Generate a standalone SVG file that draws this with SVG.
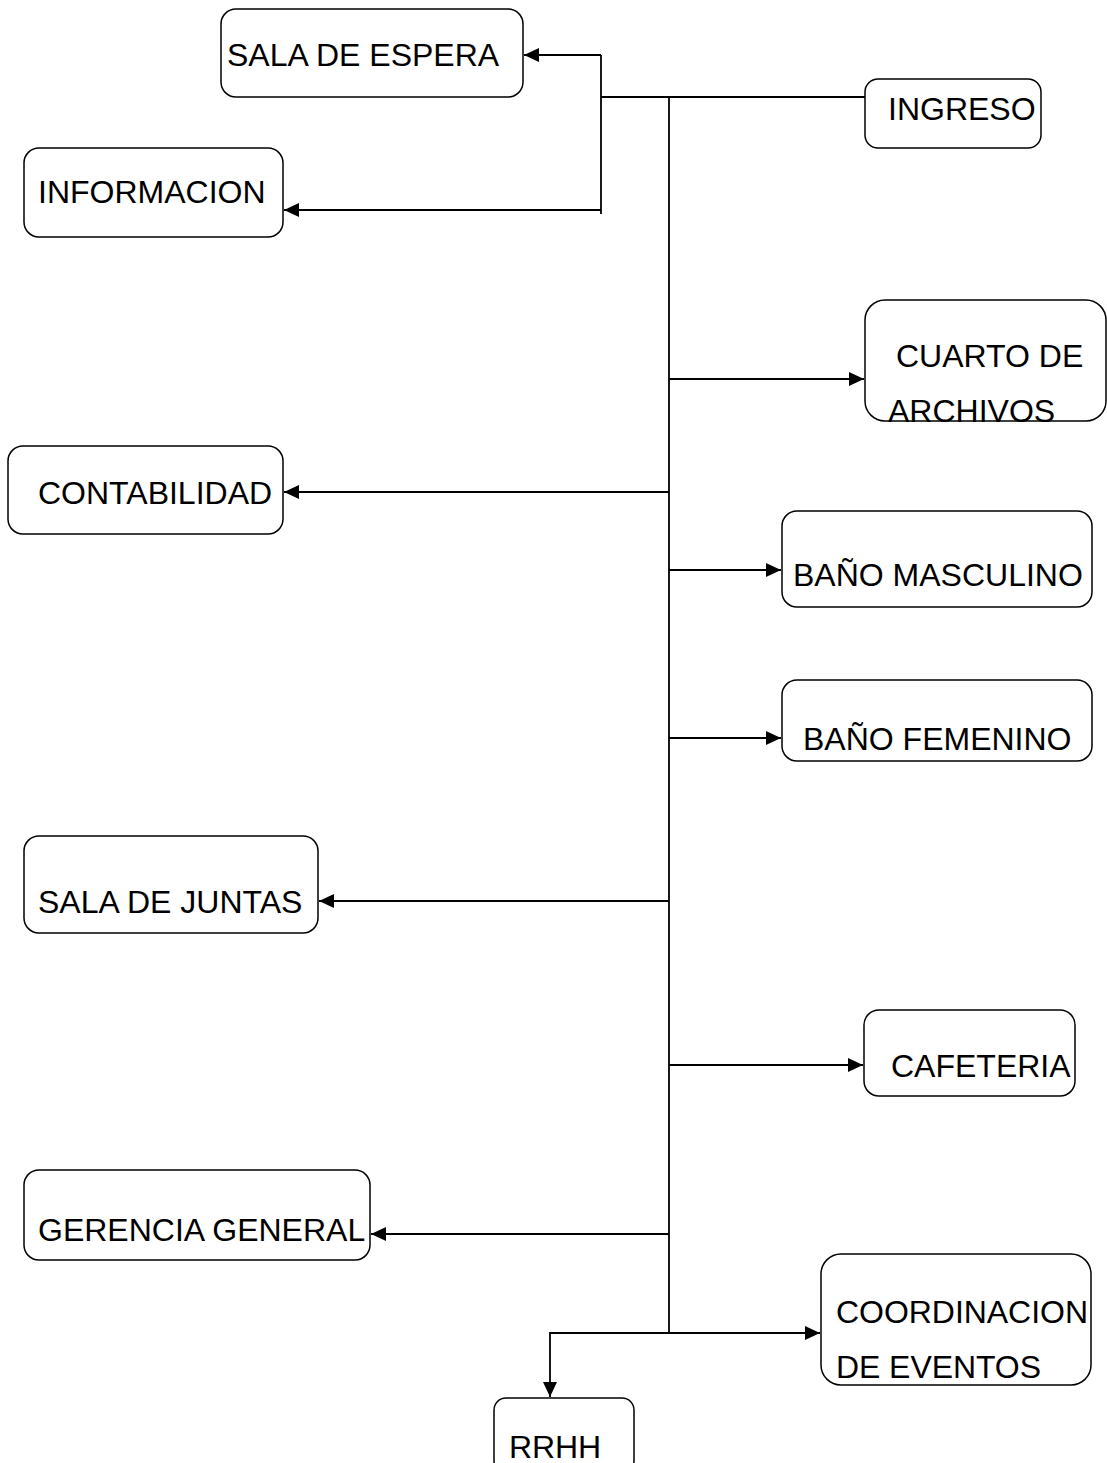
<svg xmlns="http://www.w3.org/2000/svg" width="1107" height="1463" viewBox="0 0 1107 1463">
<style>
.box{fill:#fff;stroke:#000;stroke-width:1.5}
.t{font-family:"Liberation Sans",Arial,sans-serif;font-size:32px;fill:#000}
.c{fill:none;stroke:#000;stroke-width:1.8}
</style>
<defs>
<marker id="ah" markerWidth="16" markerHeight="14" refX="15" refY="7" orient="auto" markerUnits="userSpaceOnUse">
<path d="M0,0 L15,7 L0,14 Z" fill="#000"/>
</marker>
</defs>
<rect width="1107" height="1463" fill="#fff"/>
<g id="connectors">
<line class="c" x1="669" y1="97" x2="669" y2="1333"/>
<line class="c" x1="601" y1="97" x2="865" y2="97"/>
<line class="c" x1="601" y1="55" x2="601" y2="214"/>
<line class="c" x1="601" y1="55" x2="524" y2="55" marker-end="url(#ah)"/>
<line class="c" x1="601" y1="210" x2="284" y2="210" marker-end="url(#ah)"/>
<line class="c" x1="669" y1="379" x2="864" y2="379" marker-end="url(#ah)"/>
<line class="c" x1="669" y1="492" x2="284" y2="492" marker-end="url(#ah)"/>
<line class="c" x1="669" y1="570" x2="781" y2="570" marker-end="url(#ah)"/>
<line class="c" x1="669" y1="738" x2="781" y2="738" marker-end="url(#ah)"/>
<line class="c" x1="669" y1="901" x2="319" y2="901" marker-end="url(#ah)"/>
<line class="c" x1="669" y1="1065" x2="863" y2="1065" marker-end="url(#ah)"/>
<line class="c" x1="669" y1="1234" x2="371" y2="1234" marker-end="url(#ah)"/>
<line class="c" x1="669" y1="1333" x2="820" y2="1333" marker-end="url(#ah)"/>
<polyline class="c" points="669,1333 550,1333 550,1397" marker-end="url(#ah)"/>
</g>
<g id="sala-espera"><rect class="box" x="221" y="9" width="302" height="88" rx="15"/><text class="t" x="227" y="66">SALA DE ESPERA</text></g>
<g id="informacion"><rect class="box" x="24" y="148" width="259" height="89" rx="15"/><text class="t" x="38" y="203">INFORMACION</text></g>
<g id="ingreso"><rect class="box" x="865" y="79" width="176" height="69" rx="13"/><text class="t" x="888" y="120">INGRESO</text></g>
<g id="cuarto-archivos"><rect class="box" x="865" y="300" width="241" height="121" rx="20"/><text class="t" x="896" y="367">CUARTO DE</text><text class="t" x="888" y="422">ARCHIVOS</text></g>
<g id="contabilidad"><rect class="box" x="8" y="446" width="275" height="88" rx="15"/><text class="t" x="38" y="504">CONTABILIDAD</text></g>
<g id="bano-masculino"><rect class="box" x="782" y="511" width="310" height="96" rx="15"/><text class="t" x="793" y="586">BAÑO MASCULINO</text></g>
<g id="bano-femenino"><rect class="box" x="782" y="680" width="310" height="81" rx="15"/><text class="t" x="803" y="750">BAÑO FEMENINO</text></g>
<g id="sala-juntas"><rect class="box" x="24" y="836" width="294" height="97" rx="15"/><text class="t" x="38" y="913">SALA DE JUNTAS</text></g>
<g id="cafeteria"><rect class="box" x="864" y="1010" width="211" height="86" rx="15"/><text class="t" x="891" y="1077">CAFETERIA</text></g>
<g id="gerencia"><rect class="box" x="24" y="1170" width="346" height="90" rx="15"/><text class="t" x="38" y="1241">GERENCIA GENERAL</text></g>
<g id="coordinacion"><rect class="box" x="821" y="1254" width="270" height="131" rx="20"/><text class="t" x="836" y="1323" textLength="252">COORDINACION</text><text class="t" x="836" y="1378" textLength="205">DE EVENTOS</text></g>
<g id="rrhh"><rect class="box" x="494" y="1398" width="140" height="75" rx="12"/><text class="t" x="509" y="1458" textLength="92">RRHH</text></g>
</svg>
